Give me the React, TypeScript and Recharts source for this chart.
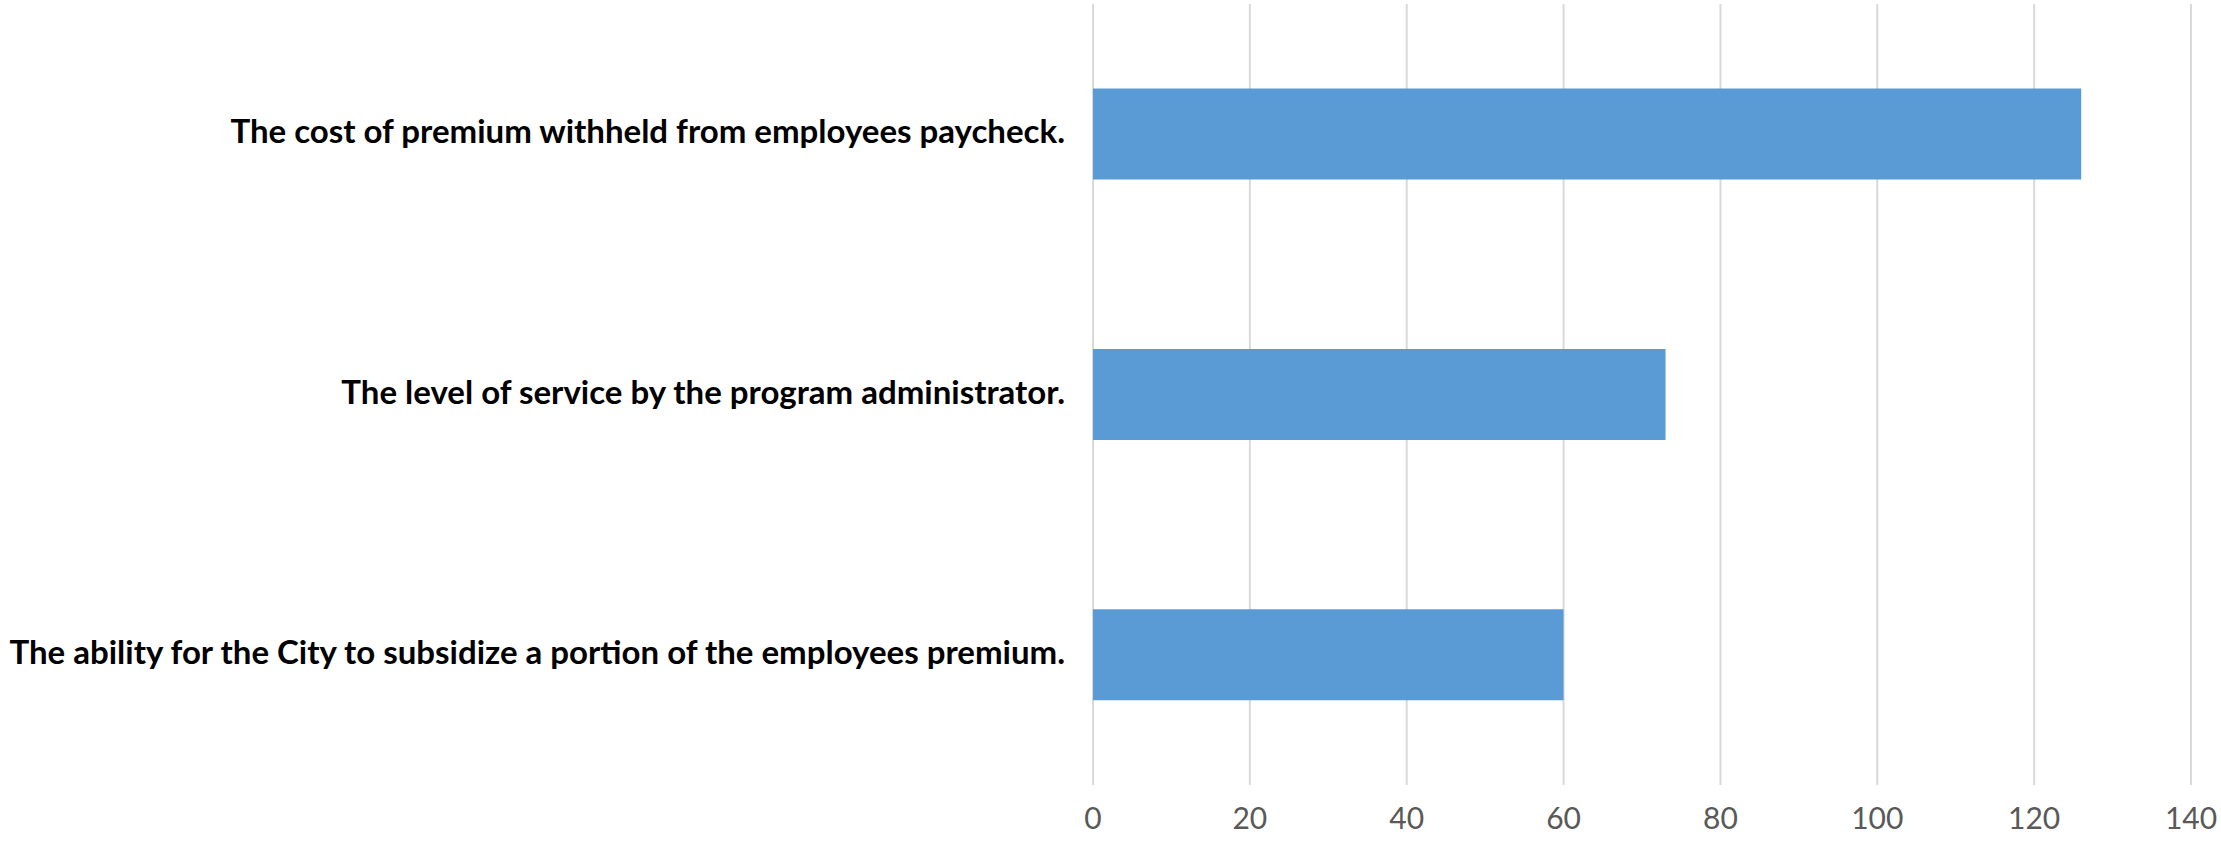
import { BarChart, Bar, XAxis, YAxis, CartesianGrid } from "recharts";

const categories = [
  "The cost of premium withheld from employees paycheck.",
  "The level of service by the program administrator.",
  "The ability for the City to subsidize a portion of the employees premium.",
];
const counts = [126, 73, 60];
const xTicks = [0, 20, 40, 60, 80, 100, 120, 140];

const data = categories.map((name, i) => ({ name, value: counts[i] }));

// right-aligned bold category label, nudged up a little to sit centred on the bar
function CategoryTick({ x, y, payload }: any) {
  return (
    <text
      x={x}
      y={y}
      dy={9}
      textAnchor="end"
      fontSize={33}
      fontWeight="bold"
      fontFamily="Lato"
      fill="#000"
    >
      {payload.value}
    </text>
  );
}

export default function App() {
  return (
    <div style={{ position: "absolute", left: 0, top: 0, background: "#fff" }}>
      <BarChart
        width={2221}
        height={843}
        data={data}
        layout="vertical"
        barCategoryGap="32.5%"
        margin={{ top: 4, right: 30, bottom: 0, left: 0 }}
      >
        <CartesianGrid horizontal={false} stroke="#d9d9d9" strokeWidth={2} />
        <XAxis
          type="number"
          domain={[0, 140]}
          ticks={xTicks}
          height={58}
          axisLine={false}
          tickLine={false}
          tickMargin={17}
          tick={{ fontSize: 30, fill: "#595959", fontFamily: "Lato" }}
        />
        <YAxis
          type="category"
          dataKey="name"
          width={1093}
          axisLine={false}
          tickLine={false}
          tickMargin={22}
          tick={<CategoryTick />}
        />
        <Bar dataKey="value" fill="#5b9bd5" isAnimationActive={false} />
      </BarChart>
    </div>
  );
}
